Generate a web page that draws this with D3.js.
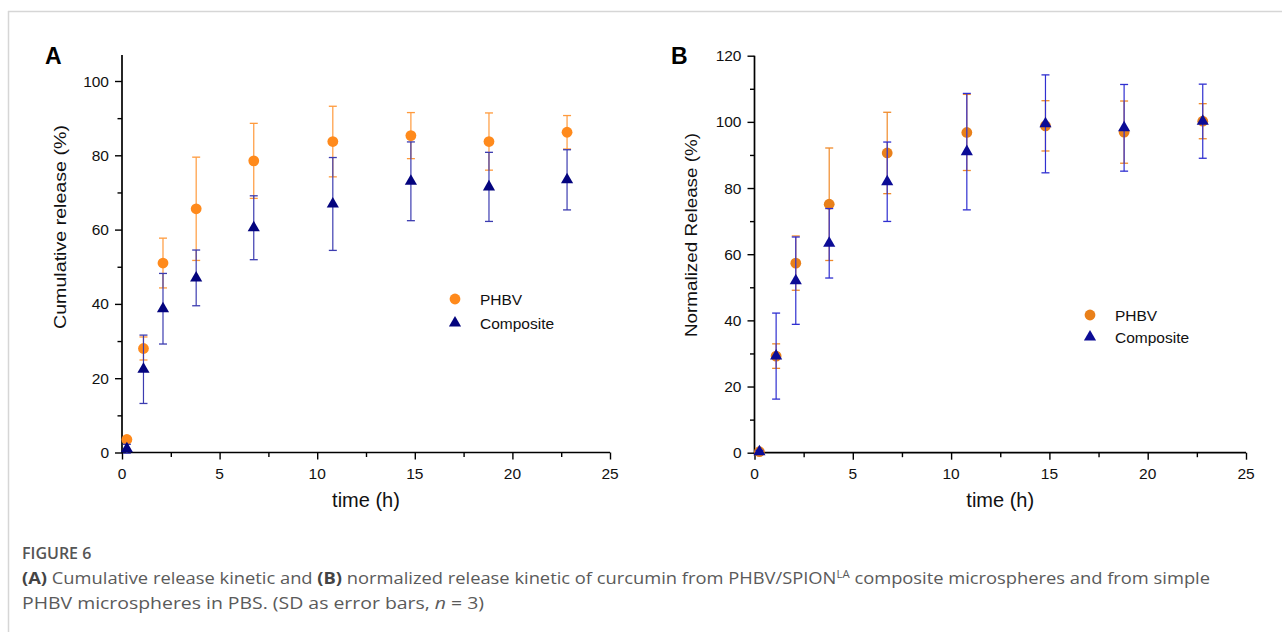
<!DOCTYPE html>
<html>
<head>
<meta charset="utf-8">
<script src="https://cdn.jsdelivr.net/npm/d3@7"></script>
<style>
  body { margin: 0; background: #fff; }
  svg { display: block; }
</style>
</head>
<body>
<svg id="chart" width="1282" height="632"></svg>
<script>
// sampling times (h)
const times = [0.25, 1.1, 2.1, 3.8, 6.75, 10.8, 14.8, 18.8, 22.8];

// panel A: cumulative release (%)
const phbvA = [3.5, 28, 51, 65.6, 78.5, 83.7, 85.3, 83.7, 86.2];
const phbvASd = [0.8, 3.1, 6.7, 13.9, 10.1, 9.5, 6.2, 7.7, 4.5];
const compA = [1.0, 22.4, 38.7, 47, 60.5, 66.9, 73, 71.5, 73.4];
const compASd = [1.2, 9.2, 9.5, 7.5, 8.6, 12.5, 10.6, 9.3, 8.1];

// panel B: normalized release (%)
const phbvB = [0.3, 29.2, 57.3, 75.1, 90.6, 96.8, 98.8, 96.9, 100.2];
const phbvBSd = [0.3, 3.7, 8.2, 17, 12.3, 11.5, 7.6, 9.4, 5.3];
const compB = [0.3, 29.2, 52, 63.3, 81.9, 91, 99.4, 98.2, 100.2];
const compBSd = [0.4, 13, 13.2, 10.5, 12, 17.6, 14.8, 13.1, 11.2];

const xTicks = [0, 5, 10, 15, 20, 25];
const seriesNames = ['PHBV', 'Composite'];

const FONT = "'Liberation Sans', Arial, sans-serif";
const svg = d3.select('#chart');

// card border
svg.append('line').attr('x1', 8).attr('x2', 1282).attr('y1', 11.5).attr('y2', 11.5)
    .attr('stroke', '#d6d6d6').attr('stroke-width', 1.5);
svg.append('line').attr('x1', 8.5).attr('x2', 8.5).attr('y1', 11).attr('y2', 632)
    .attr('stroke', '#d6d6d6').attr('stroke-width', 1.5);

const triangle = d3.symbol().type(d3.symbolTriangle).size(64);

function drawPanel(cfg) {
    const g = svg.append('g');
    const x = d3.scaleLinear().domain([0, 25]).range(cfg.xRange);
    const y = d3.scaleLinear().domain([0, cfg.yMax]).range(cfg.yRange);

    // x axis
    const xAxis = g.append('g').attr('transform', `translate(0,${cfg.yRange[0]})`);
    xAxis.call(d3.axisBottom(x).tickValues(d3.range(0, 25.01, 2.5)).tickSize(0).tickFormat(''))
    xAxis.select('.domain').remove();
    xAxis.append('line').attr('x1', x(0)).attr('x2', x(25)).attr('stroke', '#000').attr('stroke-width', 1.7);
    xAxis.selectAll('.tick line')
        .attr('y2', d => d % 5 === 0 ? 7 : 4.5)
        .attr('stroke', '#000').attr('stroke-width', 1.4);
    xAxis.selectAll('.lbl').data(xTicks).join('text')
        .attr('class', 'lbl')
        .attr('x', d => x(d)).attr('y', 26)
        .attr('text-anchor', 'middle')
        .attr('font-family', FONT)
        .attr('font-size', 15.5).attr('fill', '#111')
        .text(d => d);

    // y axis
    const yAxis = g.append('g').attr('transform', `translate(${cfg.xRange[0]},0)`);
    yAxis.call(d3.axisLeft(y).tickValues(d3.range(0, cfg.yMax + 0.01, 10)).tickSize(0).tickFormat(''));
    yAxis.select('.domain').remove();
    yAxis.append('line').attr('y1', y(0) + 0.8).attr('y2', y(cfg.yTop)).attr('stroke', '#000').attr('stroke-width', 1.7);
    yAxis.selectAll('.tick line')
        .attr('x2', d => d % 20 === 0 ? -7 : -4.5)
        .attr('stroke', '#000').attr('stroke-width', 1.4);
    yAxis.selectAll('.lbl').data(d3.range(0, cfg.yMax + 0.01, 20)).join('text')
        .attr('class', 'lbl')
        .attr('x', -13).attr('y', d => y(d) + 5.5)
        .attr('text-anchor', 'end')
        .attr('font-family', FONT)
        .attr('font-size', 15.5).attr('fill', '#111')
        .text(d => d);

    // axis titles
    g.append('text')
        .attr('x', (cfg.xRange[0] + cfg.xRange[1]) / 2).attr('y', cfg.yRange[0] + 54)
        .attr('text-anchor', 'middle')
        .attr('font-family', FONT)
        .attr('font-size', 20).attr('fill', '#111')
        .text('time (h)');
    g.append('text')
        .attr('transform', `translate(${cfg.yTitleX},${cfg.yTitleY}) rotate(-90)`)
        .attr('text-anchor', 'middle')
        .attr('font-family', FONT)
        .attr('font-size', 16.5).attr('fill', '#111')
        .attr('textLength', 204).attr('lengthAdjust', 'spacingAndGlyphs')
        .text(cfg.yTitle);

    // panel letter
    g.append('text')
        .attr('x', cfg.letterX).attr('y', 64)
        .attr('font-family', FONT)
        .attr('font-weight', 'bold').attr('font-size', 23).attr('fill', '#000')
        .text(cfg.letter);

    // series
    cfg.series.forEach(s => {
        const pts = times.map((t, i) => ({ t: t, v: s.values[i], sd: s.sd[i] }));
        const eg = g.append('g');
        const bars = eg.selectAll('g').data(pts).join('g');
        bars.append('line')
            .attr('x1', d => x(d.t)).attr('x2', d => x(d.t))
            .attr('y1', d => y(d.v + d.sd)).attr('y2', d => y(d.v - d.sd))
            .attr('stroke', s.errColor).attr('stroke-width', 1.2);
        [1, -1].forEach(sign => {
            bars.append('line')
                .attr('x1', d => x(d.t) - 4).attr('x2', d => x(d.t) + 4)
                .attr('y1', d => y(d.v + sign * d.sd)).attr('y2', d => y(d.v + sign * d.sd))
                .attr('stroke', s.errColor).attr('stroke-width', 1.3);
        });
        if (s.shape === 'circle') {
            eg.selectAll('circle').data(pts).join('circle')
                .attr('cx', d => x(d.t)).attr('cy', d => y(d.v))
                .attr('r', 5.4).attr('fill', s.color);
        } else {
            eg.selectAll('path.m').data(pts).join('path')
                .attr('class', 'm')
                .attr('d', triangle)
                .attr('transform', d => `translate(${x(d.t)},${y(d.v)})`)
                .attr('fill', s.color);
        }
    });

    // legend
    const lg = g.append('g').attr('transform', `translate(${cfg.legendX},${cfg.legendY})`);
    cfg.series.forEach((s, i) => {
        const row = lg.append('g').attr('transform', `translate(0,${i * cfg.legendGap})`);
        if (s.shape === 'circle') row.append('circle').attr('r', 5.4).attr('fill', s.color);
        else row.append('path').attr('d', triangle).attr('fill', s.color);
        row.append('text')
            .attr('x', 25).attr('y', 5.5)
            .attr('font-family', FONT)
            .attr('font-size', 15.5).attr('fill', '#111')
            .text(seriesNames[i]);
    });
}

drawPanel({
    letter: 'A', letterX: 45,
    xRange: [122, 610], yRange: [452.5, 81], yMax: 100, yTop: 107,
    yTitle: 'Cumulative release (%)', yTitleX: 66, yTitleY: 227,
    legendX: 455, legendY: 299, legendGap: 24,
    series: [
        { values: phbvA, sd: phbvASd, color: '#ff8a1c', errColor: '#ff9a3c', shape: 'circle' },
        { values: compA, sd: compASd, color: '#04047e', errColor: '#3c3cb0', shape: 'triangle' }
    ]
});

drawPanel({
    letter: 'B', letterX: 671,
    xRange: [754.5, 1246], yRange: [452.7, 55.7], yMax: 120, yTop: 120,
    yTitle: 'Normalized Release (%)', yTitleX: 697, yTitleY: 235,
    legendX: 1090, legendY: 315, legendGap: 22,
    series: [
        { values: phbvB, sd: phbvBSd, color: '#e9801a', errColor: '#f08a2a', shape: 'circle' },
        { values: compB, sd: compBSd, color: '#0c0c96', errColor: '#2f2fd0', shape: 'triangle' }
    ]
});

// caption
const cap = svg.append('g')
    .attr('font-family', "'Open Sans', 'Noto Sans', sans-serif")
    .attr('fill', '#5a5a5a');
cap.append('text').attr('x', 22).attr('y', 559)
    .attr('font-size', 16).attr('font-weight', 600).attr('fill', '#555')
    .text('FIGURE 6');
const l1 = cap.append('text').attr('x', 22).attr('y', 584).attr('font-size', 16)
    .attr('textLength', 1188).attr('lengthAdjust', 'spacingAndGlyphs');
l1.append('tspan').attr('font-weight', 700).attr('fill', '#444').text('(A)');
l1.append('tspan').text(' Cumulative release kinetic and ');
l1.append('tspan').attr('font-weight', 700).attr('fill', '#444').text('(B)');
l1.append('tspan').text(' normalized release kinetic of curcumin from PHBV/SPION');
l1.append('tspan').attr('font-size', 10).attr('dy', -6).text('LA');
l1.append('tspan').attr('dy', 6).text(' composite microspheres and from simple');
const l2 = cap.append('text').attr('x', 22).attr('y', 609).attr('font-size', 16)
    .attr('textLength', 462).attr('lengthAdjust', 'spacingAndGlyphs');
l2.append('tspan').text('PHBV microspheres in PBS. (SD as error bars, ');
l2.append('tspan').attr('font-style', 'italic').text('n');
l2.append('tspan').text(' = 3)');
</script>
</body>
</html>
